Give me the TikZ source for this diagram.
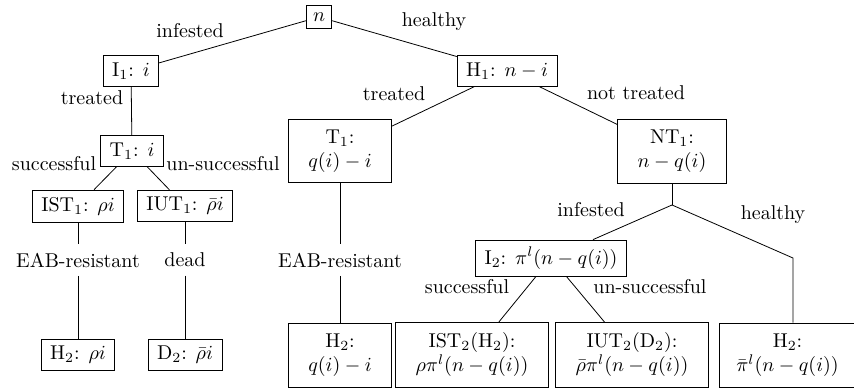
\documentclass[tikz,border=0pt]{standalone}
\usepackage{amsmath, amssymb}
\usepackage{tikz}
\usetikzlibrary{positioning, calc}

\begin{document}
\begin{tikzpicture}[box/.style={draw, inner xsep=4.5pt, inner ysep=3.5pt},
    tallbox/.style={draw, align=center, inner xsep=10pt, inner ysep=5.3pt},
    brlbl/.style={inner xsep=2pt, inner ysep=4.1pt}]
    \useasboundingbox (0,0) rectangle (15.007,6.818);
    % first split
    \node[draw, inner sep=3.4pt] (N) at (5.606,6.520) {$n$};
    \node[box] (I1) at (2.302,5.571) {I$_1$: $i$};
    \node[box] (H1) at (8.910,5.571) {H$_1$: $n-i$};
    \node (infA) at (3.339,6.274) {infested};
    \node (hltA) at (7.627,6.432) {healthy};
    \draw (N) -- (I1);
    \draw (N) -- (H1);
    % infested branch
    \node[box] (T1a) at (2.320,4.165) {T$_1$: $i$};
    \node (trtA) at (1.617,5.096) {treated};
    \draw (I1) -- (T1a);
    \node[box] (IST1) at (1.371,3.198) {IST$_1$: $\rho i$};
    \node[box] (IUT1) at (3.251,3.198) {IUT$_1$: $\bar\rho i$};
    \node (sucA) at (0.949,3.936) {successful};
    \node (unsA) at (3.919,3.936) {un-successful};
    \draw (T1a) -- (IST1);
    \draw (T1a) -- (IUT1);
    \node[brlbl] (eabA) at (1.371,2.249) {EAB-resistant};
    \node[brlbl] (dead) at (3.251,2.249) {dead};
    \node[box] (H2a) at (1.371,0.580) {H$_2$: $\rho i$};
    \node[box] (D2) at (3.251,0.580) {D$_2$: $\bar\rho i$};
    \draw (IST1) -- (eabA) -- (H2a);
    \draw (IUT1) -- (dead) -- (D2);
    % healthy branch
    \node[tallbox] (T1b) at (5.975,4.165) {T$_1$:\\ $q(i)-i$};
    \node[tallbox] (NT1) at (11.809,4.165) {NT$_1$:\\ $n-q(i)$};
    \node (trtB) at (6.924,5.166) {treated};
    \node (ntrt) at (11.176,5.184) {not treated};
    \draw (H1) -- (T1b);
    \draw (H1) -- (NT1);
    \node[brlbl] (eabB) at (5.975,2.249) {EAB-resistant};
    \node[tallbox] (H2b) at (5.975,0.580) {H$_2$:\\ $q(i)-i$};
    \draw (T1b) -- (eabB) -- (H2b);
    % not treated
    \coordinate (J) at (11.809,3.216);
    \coordinate (K) at (13.935,2.284);
    \node[box] (I2) at (9.683,2.284) {I$_2$: $\pi^l(n-q(i))$};
    \node (infB) at (10.386,3.128) {infested};
    \node (hltB) at (13.584,3.040) {healthy};
    \node[tallbox] (IST2) at (8.294,0.580) {IST$_2$(H$_2$):\\ $\rho\pi^l(n-q(i))$};
    \node[tallbox] (IUT2) at (11.106,0.580) {IUT$_2$(D$_2$):\\ $\bar\rho\pi^l(n-q(i))$};
    \node[tallbox, inner xsep=8.5pt] (H2c) at (13.839,0.580) {H$_2$:\\ $\bar\pi^l(n-q(i))$};
    \node (sucB) at (8.207,1.775) {successful};
    \node (unsB) at (11.422,1.775) {un-successful};
    \draw (NT1) -- (J);
    \draw (J) -- (I2);
    \draw (J) -- (K) -- (K |- H2c.north);
    \draw (I2) -- (IST2);
    \draw (I2) -- (IUT2);
\end{tikzpicture}
\end{document}
